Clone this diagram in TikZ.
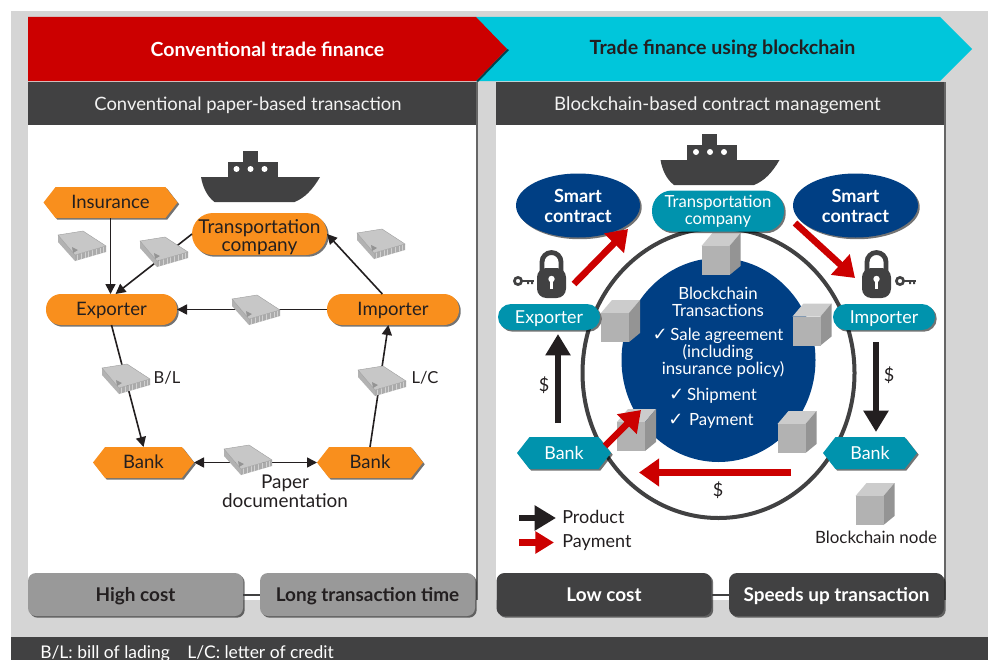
\documentclass[tikz,border=0pt]{standalone}
\usepackage{fontspec}
\setmainfont{Lato}
\newfontfamily\checkfont{DejaVu Sans}
\usetikzlibrary{arrows.meta,shapes.geometric,shapes.symbols,shadows}
\definecolor{dark}{HTML}{414142}
\definecolor{ink}{HTML}{231F20}
\definecolor{bggray}{HTML}{D5D5D5}
\definecolor{tred}{HTML}{CC0000}
\definecolor{tcyan}{HTML}{00C6DB}
\definecolor{torange}{HTML}{F98F1D}
\definecolor{tteal}{HTML}{0093AD}
\definecolor{tblue}{HTML}{003F84}
\definecolor{midgray}{HTML}{999999}
\tikzset{
  x=0.75pt,y=-0.75pt,
  wh/.style 2 args={minimum width=#1*0.75pt,minimum height=#2*0.75pt,inner sep=0pt,outer sep=0pt},
  softshadow/.style={drop shadow={shadow xshift=1.3pt,shadow yshift=-1.3pt,opacity=.55,fill=black}},
  pill/.style={rectangle,rounded corners=#1*0.75pt,softshadow,align=center},
  hexa/.style={signal,signal to=west and east,signal pointer angle=104,softshadow,align=center},
  orangefill/.style={fill=torange,text=ink,text height=9.6pt,text depth=0pt,font=\fontsize{13.9}{13.5}\selectfont},
  tealfill/.style={fill=tteal,text=white,text height=9.6pt,text depth=0pt,font=\fontsize{13.4}{12.6}\selectfont},
  smart/.style={ellipse,fill=tblue,text=white,softshadow,align=center,font=\bfseries\fontsize{13.6}{15}\selectfont},
  thinarrow/.style={draw=ink,line width=1.2pt,-{Triangle[length=7.5pt,width=7.5pt]}},
  blockred/.style={draw=tred,line width=5pt,-{Triangle[length=15pt,width=20pt]}},
  blockblack/.style={draw=ink,line width=5pt,-{Triangle[length=16pt,width=18pt]}},
  lab/.style={text=ink,font=\fontsize{13.5}{14}\selectfont,align=center,inner sep=0pt},
  inner/.style={text=white,font=\fontsize{12.6}{12.8}\selectfont,align=center,inner sep=0pt},
  footbox/.style={rectangle,rounded corners=6pt,softshadow,text height=10.5pt,text depth=0pt,font=\bfseries\fontsize{14.2}{15}\selectfont,wh={215}{43}},
  paperstack/.pic={
    \fill[black!30] (-24,-11) -- (-24,-4) -- (-7,15) -- (-7,9) -- cycle;
    \fill[black!33] (-7,9) -- (-7,15) -- (24,6) -- (24,0) -- cycle;
    \foreach \t in {0.08,0.2,...,0.95}{
      \draw[black!18,line width=.35pt] ({-7+31*\t},{9-9*\t}) -- ({-7+31*\t},{15-9*\t});
    }
    \fill[black!22,draw=black!38,line width=.3pt] (-24,-11) -- (1,-15) -- (24,0) -- (-7,9) -- cycle;
    \fill[black!42] (-10,1) -- (-4,4) -- (-9,7) -- cycle;
  },
  cube/.pic={
    \fill[black!20] (-19.5,-8) -- (8.5,-8) -- (19.5,-21) -- (-8.5,-21) -- cycle;
    \fill[black!42] (8.5,-8) -- (19.5,-21) -- (19.5,12) -- (8.5,21) -- cycle;
    \fill[black!30] (-19.5,-8) rectangle (8.5,21);
  },
  ship/.pic={
    \fill[dark] (-18,-25) rectangle (-3,-14);
    \fill[dark] (-33,-14) rectangle (17,1);
    \fill[dark] (-59.5,1) -- (59.5,1) .. controls (52,14) and (44,22) .. (34,26) -- (-46,26) .. controls (-54,20) and (-58,10) .. (-59.5,1) -- cycle;
    \foreach \d in {-24,-10,4}{\fill[white] (\d,-7) circle (3);}
  },
  padlock/.pic={
    \draw[dark,line width=3.6pt] (-9.5,3) -- (-9.5,-7) arc[start angle=180,end angle=360,x radius=9.5,y radius=9.5] -- (9.5,3);
    \fill[dark,rounded corners=7pt] (-14.5,-1) rectangle (14.5,29);
    \fill[white] (0,10) circle (3.2);
    \fill[white] (-1.6,10) -- (1.6,10) -- (1.6,20) -- (-1.6,20) -- cycle;
  },
  keyicon/.pic={
    \draw[dark,line width=2pt] (0,0) circle (3.6);
    \draw[dark,line width=2.2pt] (3.6,0) -- (16,0);
    \fill[dark] (9,0) rectangle (11,3) (13,0) rectangle (15,3);
  },
}
\begin{document}
\begin{tikzpicture}
\useasboundingbox (0,0) rectangle (991,660);
\fill[white] (0,0) rectangle (991,660);
\fill[bggray] (11,11) rectangle (988,637);
\fill[dark] (11,637) rectangle (988,660);
\node[anchor=west,text=white,font=\fontsize{13.1}{14}\selectfont,inner sep=0pt] (foot) at (40,654) {B/L: bill of lading\hspace{1em}L/C: letter of credit};

% panels
\fill[black!60] (28,82) rectangle (477.5,600);
\fill[black!60] (496,82) rectangle (945.5,600);
\fill[white] (28,125) rectangle (475.5,600);
\fill[white] (496,125) rectangle (943.5,600);
\fill[dark] (28,82) rectangle (475.5,125);
\fill[dark] (496,82) rectangle (943.5,125);
\node[text=white!90!gray,font=\fontsize{13.8}{15}\selectfont,inner sep=0pt] (hl) at (248,105) {Conventional paper-based transaction};
\node[text=white!90!gray,font=\fontsize{14}{15}\selectfont,inner sep=0pt] (hr) at (717.5,105) {Blockchain-based contract management};

% banners
\fill[tcyan] (476,17) -- (940,17) -- (972,49) -- (940,81) -- (476,81) -- cycle;
\fill[black!65!tcyan] (476,81) -- (478,82) -- (509,50) -- (507,49) -- cycle;
\fill[tred] (28,17) -- (476,17) -- (507,49) -- (476,81) -- (28,81) -- cycle;
\node[text=white,font=\bfseries\fontsize{14.6}{15}\selectfont,inner sep=0pt] (bl) at (267.5,49) {Conventional trade finance};
\node[text=ink,font=\bfseries\fontsize{14.7}{15}\selectfont,inner sep=0pt] (br) at (722.5,49) {Trade finance using blockchain};

% footer boxes
\node[footbox,fill=midgray,text=ink] (hc) at (135.5,594.5) {High cost};
\node[footbox,fill=midgray,text=ink] (lt) at (367.5,594.5) {Long transaction time};
\node[footbox,fill=dark,text=white] (lc) at (604,594.5) {Low cost};
\node[footbox,fill=dark,text=white] (su) at (836.5,594.5) {Speeds up transaction};
\draw[dark,line width=1.5pt] (hc.east) -- (lt.west);
\draw[dark,line width=1.5pt] (lc.east) -- (su.west);

% ---------- left diagram
\pic at (260.5,176) {ship};
\node[hexa,orangefill,wh={134}{31}] (ins) at (110.5,202.5) {Insurance};
\node[pill=15,orangefill,wh={131}{31}] (exp) at (111.5,309.5) {Exporter};
\node[pill=15,orangefill,wh={132}{31}] (imp) at (393,309.5) {Importer};
\node[pill=21,orangefill,wh={135}{42},text height=25.5pt,font=\fontsize{14.3}{13.5}\selectfont] (trans) at (259.5,234) {Transportation\\company};
\node[hexa,orangefill,wh={101}{31}] (bl1) at (143.5,462.5) {Bank};
\node[hexa,orangefill,wh={106}{31}] (bl2) at (370,462.5) {Bank};
\coordinate (impT) at ([xshift=-8pt]imp.north);
\coordinate (impB) at ([xshift=-3.5pt]imp.south);
\coordinate (expN) at ([xshift=3pt]exp.north);
\coordinate (expNi) at (ins.south |- exp.north);
\draw[thinarrow] (ins.south) -- (expNi);
\draw[thinarrow] (trans.west) -- (expN);
\draw[thinarrow] (imp.west) -- (exp.east);
\draw[thinarrow] (impT) -- (trans.east);
\draw[thinarrow] (exp.south) -- (bl1.north);
\draw[thinarrow] (bl2.north) -- (impB);
\draw[thinarrow,{Triangle[length=7.5pt,width=7.5pt]}-{Triangle[length=7.5pt,width=7.5pt]}] (bl1.east) -- (bl2.west);
\pic at (82,246) {paperstack};
\pic at (164,252) {paperstack};
\pic at (256,310) {paperstack};
\pic at (381,244) {paperstack};
\pic at (126,379) {paperstack};
\pic at (382,381) {paperstack};
\pic at (248,460) {paperstack};
\node[lab,font=\fontsize{12.4}{14}\selectfont] (tbl) at (167,378) {B/L};
\node[lab,font=\fontsize{12.4}{14}\selectfont] (tlc) at (425,378) {L/C};
\node[lab,font=\fontsize{14.2}{14}\selectfont] (tpd) at (285,491) {Paper\\documentation};

% ---------- right diagram
\draw[dark,line width=3pt] (718.5,373) ellipse [x radius=136,y radius=145];
\fill[tblue] (718.5,360) ellipse [x radius=97,y radius=102];
\pic at (721,254) {cube};
\pic at (620.5,321) {cube};
\pic at (812,324.5) {cube};
\pic at (636.5,430) {cube};
\pic at (797,432) {cube};
\pic at (875,504) {cube};
\pic at (720,159) {ship};
\node[inner] (c1) at (718,301.5) {Blockchain\\Transactions};
\node[inner] (c2) at (718,353) {{\checkfont\fontsize{13.5}{13}\selectfont ✓}\,Sale agreement\\(including\\\hspace{0.6em}insurance policy)};
\node[inner] (c3) at (713,396) {{\checkfont\fontsize{13.5}{13}\selectfont ✓}\,Shipment};
\node[inner] (c4) at (711,421) {{\checkfont\fontsize{13.5}{13}\selectfont ✓}\,\,Payment};

\node[smart,wh={124}{64}] (sc1) at (578,205.5) {Smart\\contract};
\node[smart,wh={125}{64}] (sc2) at (855.5,205.5) {Smart\\contract};
\node[pill=20,tealfill,wh={132}{41},text height=19.5pt,font=\fontsize{12.5}{12.6}\selectfont] (tr2) at (718,211) {Transportation\\company};
\node[pill=13,tealfill,wh={102}{26}] (ex2) at (549,317) {Exporter};
\node[pill=13,tealfill,wh={102}{26}] (im2) at (884,317) {Importer};
\node[hexa,tealfill,wh={94}{32}] (ba1) at (564,453) {Bank};
\node[hexa,tealfill,wh={94}{32}] (ba2) at (870,453) {Bank};

\pic at (551.5,269) {padlock};
\pic at (876.5,269) {padlock};
\pic at (518,281) {keyicon};
\pic at (900,281) {keyicon};

\coordinate (r1a) at (574,284);
\coordinate (r1b) at (628,229);
\coordinate (r2a) at (795,223);
\coordinate (r2b) at (855,278);
\coordinate (r3a) at (605,446);
\coordinate (r3b) at (641,410);
\coordinate (r4a) at (791,472.5);
\coordinate (r4b) at (639,472.5);
\coordinate (k1a) at (558,423);
\coordinate (k1b) at (558,334);
\coordinate (k2a) at (876,342);
\coordinate (k2b) at (876,432);
\draw[blockred] (r1a) -- (r1b);
\draw[blockred] (r2a) -- (r2b);
\draw[blockred] (r3a) -- (r3b);
\draw[blockred] (r4a) -- (r4b);
\draw[blockblack] (k1a) -- (k1b);
\draw[blockblack] (k2a) -- (k2b);
\node[lab] (d1) at (544,385) {\$};
\node[lab] (d2) at (889,375) {\$};
\node[lab] (d3) at (718,490) {\$};

% legend
\coordinate (l1a) at (519,518);
\coordinate (l1b) at (556,518);
\coordinate (l2a) at (519,542.5);
\coordinate (l2b) at (554,542.5);
\draw[draw=ink,line width=5pt,-{Triangle[length=16pt,width=18pt]}] (l1a) -- (l1b);
\draw[draw=tred,line width=5pt,-{Triangle[length=14pt,width=16pt]}] (l2a) -- (l2b);
\node[lab,anchor=west] (lp) at (562,517) {Product};
\node[lab,anchor=west] (lq) at (562,543) {Payment};
\node[lab,font=\fontsize{12.7}{14}\selectfont] (lb) at (876,537) {Blockchain node};
\end{tikzpicture}
\end{document}
